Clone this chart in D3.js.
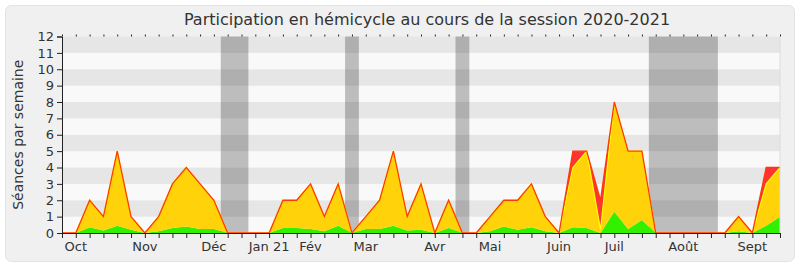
<!DOCTYPE html>
<html>
<head>
<meta charset="utf-8">
<script src="https://cdn.jsdelivr.net/npm/d3@7"></script>
<style>
  body { margin: 0; background: #fff; }
  text { font-family: "DejaVu Sans", sans-serif; fill: #333; }
</style>
</head>
<body>
<div id="chart"></div>
<script>
/* PARTICIPATION EN HEMICYCLE : seances par semaine, session 2020-2021 */
const weeks = d3.range(0, 53);

// seances with speech (green), presence (yellow), other (red)
const green = [0, 0, 0.35, 0.15, 0.45, 0.2, 0, 0.1, 0.3, 0.4, 0.25, 0.25, 0, 0, 0, 0,
    0.3, 0.3, 0.25, 0.1, 0.45, 0, 0.25, 0.25, 0.45, 0.15, 0.2, 0, 0.3, 0, 0, 0.1,
    0.4, 0.2, 0.35, 0.1, 0, 0.35, 0.3, 0, 1.3, 0.25, 0.8, 0, 0, 0, 0, 0, 0, 0.1, 0, 0.45, 1.0];
const yellow = [0, 0, 1.65, 0.85, 4.55, 0.8, 0, 0.9, 2.7, 3.6, 2.75, 1.75, 0, 0, 0, 0,
    1.7, 1.7, 2.75, 0.9, 2.55, 0, 0.75, 1.75, 4.55, 0.85, 2.8, 0, 1.7, 0, 0, 0.9,
    1.6, 1.8, 2.65, 0.9, 0, 3.65, 4.7, 0.2, 6.7, 4.75, 4.2, 0, 0, 0, 0, 0, 0, 0.9, 0, 2.55, 3.0];
const red = [0, 0, 0, 0, 0, 0, 0, 0, 0, 0, 0, 0, 0, 0, 0, 0,
    0, 0, 0, 0, 0, 0, 0, 0, 0, 0, 0, 0, 0, 0, 0, 0,
    0, 0, 0, 0, 0, 1, 0, 1.8, 0, 0, 0, 0, 0, 0, 0, 0, 0, 0, 0, 1, 0];

const monthLabels = ["Oct", "Nov", "Déc", "Jan 21", "Fév", "Mar", "Avr", "Mai", "Juin", "Juil", "Août", "Sept"];
const monthWeeks = [1, 6, 11, 15, 18, 22, 27, 31, 36, 40, 45, 50];

// parliamentary breaks, in weeks
const vacations = [[11.5, 13.5], [20.5, 21.5], [28.5, 29.5], [42.5, 47.5]];

const yTicks = d3.range(0, 13);

const width = 800, height = 267;
const margin = { top: 36.5, right: 20, bottom: 34, left: 62 };
const innerWidth = width - margin.left - margin.right;
const innerHeight = height - margin.top - margin.bottom;

const svg = d3.select("#chart")
    .append("svg")
    .attr("width", width)
    .attr("height", height);

// panel background
svg.append("rect")
    .attr("x", 5.5).attr("y", 5.5)
    .attr("width", 789).attr("height", 256)
    .attr("rx", 6)
    .attr("fill", "#f0f0f0")
    .attr("stroke", "#e2e2e2");

svg.append("text")
    .attr("x", 427)
    .attr("y", 25)
    .attr("text-anchor", "middle")
    .style("font-size", "16px")
    .text("Participation en hémicycle au cours de la session 2020-2021");

const g = svg.append("g")
    .attr("transform", `translate(${margin.left}, ${margin.top})`);

const x = d3.scaleLinear().domain([0, 52]).range([0, innerWidth]);
const y = d3.scaleLinear().domain([0, 12]).range([innerHeight, 0]);

// alternating stripes
g.selectAll(".stripe")
    .data(d3.range(0, 12))
    .enter()
    .append("rect")
    .attr("x", 0)
    .attr("width", innerWidth)
    .attr("y", d => y(d + 1))
    .attr("height", d => y(d) - y(d + 1))
    .attr("fill", d => d % 2 ? "#e6e6e6" : "#f9f9f9");

// breaks
g.selectAll(".vac")
    .data(vacations)
    .enter()
    .append("rect")
    .attr("x", d => x(d[0]))
    .attr("width", d => x(d[1]) - x(d[0]))
    .attr("y", 0)
    .attr("height", innerHeight)
    .attr("fill", "rgba(0,0,0,0.24)");

// stacked areas
const table = weeks.map(i => ({ week: i, green: green[i], yellow: yellow[i], red: red[i] }));
const series = d3.stack().keys(["green", "yellow", "red"])(table);
const fills = { green: "#33f000", yellow: "#ffd20a", red: "#ff3333" };

const area = d3.area()
    .x(d => x(d.data.week))
    .y0(d => y(d[0]))
    .y1(d => y(d[1]));
const topLine = d3.line()
    .x(d => x(d.data.week))
    .y(d => y(d[1]));

g.selectAll(".layer")
    .data(series)
    .enter()
    .append("path")
    .attr("d", area)
    .attr("fill", d => fills[d.key]);

g.append("path")
    .attr("d", topLine(series[1]))
    .attr("fill", "none")
    .attr("stroke", "#ffff00")
    .attr("stroke-width", 1.2);

g.append("path")
    .attr("d", topLine(series[2]))
    .attr("fill", "none")
    .attr("stroke", "#ff3a00")
    .attr("stroke-width", 1.3);

// axes
const yAxis = g.append("g")
    .call(d3.axisLeft(y).tickValues(yTicks).tickSize(5).tickPadding(3));
const xAxis = g.append("g")
    .attr("transform", `translate(0, ${innerHeight})`)
    .call(d3.axisBottom(x).tickValues(weeks).tickSize(5).tickFormat(""));
const xTop = g.append("g")
    .call(d3.axisTop(x).tickValues(weeks).tickSize(2).tickFormat(""));
xTop.select(".domain").remove();
xAxis.selectAll("text").remove();
xTop.selectAll("text").remove();

[yAxis, xAxis, xTop].forEach(a => {
    a.selectAll("line").attr("stroke", "#222");
    a.select(".domain").attr("stroke", "#222");
});
yAxis.selectAll("text").style("font-size", "13px").attr("fill", "#333");

g.selectAll(".month")
    .data(monthLabels)
    .enter()
    .append("text")
    .attr("x", (d, i) => x(monthWeeks[i]))
    .attr("y", innerHeight + 17.5)
    .attr("text-anchor", "middle")
    .style("font-size", "13px")
    .text(d => d);

// plot border right
g.append("line")
    .attr("x1", innerWidth).attr("x2", innerWidth)
    .attr("y1", 0).attr("y2", innerHeight)
    .attr("stroke", "#dcdcdc");

svg.append("text")
    .attr("transform", `translate(23, ${margin.top + innerHeight / 2}) rotate(-90)`)
    .attr("text-anchor", "middle")
    .style("font-size", "14px")
    .text("Séances par semaine");
</script>
</body>
</html>
